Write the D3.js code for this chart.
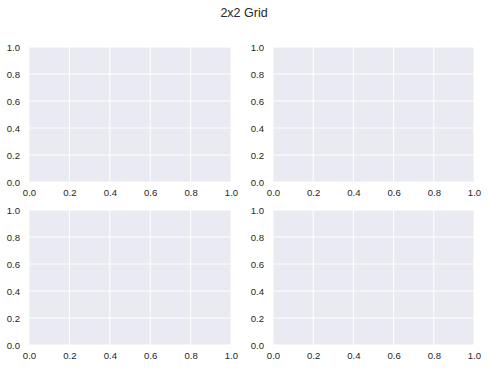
<!DOCTYPE html>
<html><head><meta charset="utf-8">
<script src="https://cdn.jsdelivr.net/npm/d3@7"></script>
<style>body{margin:0;background:#fff}svg{display:block}</style>
</head><body>
<script>
const title = "2x2 Grid";
const xDomain = [0, 1];
const yDomain = [0, 1];
const tickValues = [0, 0.2, 0.4, 0.6, 0.8, 1.0];
const panels = [
  {row: 0, col: 0}, {row: 0, col: 1},
  {row: 1, col: 0}, {row: 1, col: 1}
];

const W = 488, H = 368;
const colX = [[29, 231], [273, 474]];
const rowY = [[47, 182], [210, 345]];

const svg = d3.select("body").append("svg").attr("width", W).attr("height", H)
  .style("font-family", "'Liberation Sans', Arial, sans-serif");

svg.append("text").attr("x", 244).attr("y", 16.5).attr("text-anchor", "middle")
  .attr("fill", "#262626").style("font-size", "12.5px").text(title);

panels.forEach(p => {
  const [x0, x1] = colX[p.col];
  const [y0, y1] = rowY[p.row];
  const x = d3.scaleLinear().domain(xDomain).range([x0, x1]);
  const y = d3.scaleLinear().domain(yDomain).range([y1, y0]);
  const g = svg.append("g");
  g.append("rect").attr("x", x0).attr("y", y0).attr("width", x1 - x0).attr("height", y1 - y0)
    .attr("fill", "#EAEAF2");
  g.selectAll(".gx").data(tickValues).enter().append("line")
    .attr("x1", d => x(d)).attr("x2", d => x(d)).attr("y1", y0).attr("y2", y1)
    .attr("stroke", "#fff").attr("stroke-width", 1);
  g.selectAll(".gy").data(tickValues).enter().append("line")
    .attr("y1", d => y(d)).attr("y2", d => y(d)).attr("x1", x0).attr("x2", x1)
    .attr("stroke", "#fff").attr("stroke-width", 1);
  const xa = g.append("g").attr("transform", `translate(0,${y1})`)
    .call(d3.axisBottom(x).tickValues(tickValues).tickFormat(d3.format(".1f")).tickSize(0).tickPadding(7.5));
  const ya = g.append("g").attr("transform", `translate(${x0},0)`)
    .call(d3.axisLeft(y).tickValues(tickValues).tickFormat(d3.format(".1f")).tickSize(0).tickPadding(9));
  [xa, ya].forEach(a => {
    a.select(".domain").remove();
    a.selectAll("text").attr("fill", "#262626").style("font-size", "9.6px")
      .style("font-family", "'Liberation Sans', Arial, sans-serif");
  });
});
</script>
</body></html>
